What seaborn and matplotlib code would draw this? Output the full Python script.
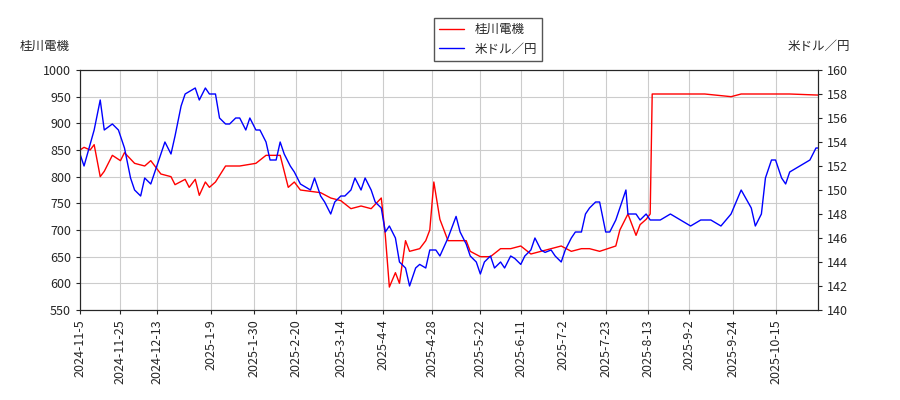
import matplotlib
matplotlib.use("Agg")
import matplotlib.pyplot as plt
import matplotlib.dates as mdates
import seaborn as sns
import pandas as pd

sns.set_style("white")
plt.rcParams['font.family'] = ['Noto Sans CJK JP', 'DejaVu Sans']

start = pd.Timestamp("2024-11-05")
stock_px = [80,85,90,95,100,105,112,120,125,135,145,150,160,170,175,185,190,195,200,205,210,215,225,240,255,265,280,
            288,295,300,320,330,340,350,360,370,380,385,390,395,400,405,410,420,425,430,434,440,448,455,465,470,480,490,
            500,510,520,530,540,550,560,570,580,590,600,615,620,628,635,640,645,650,652,680,705,730,740,760,790,818]
stock_val = [850,855,850,860,800,810,840,830,845,825,820,830,805,800,785,795,780,795,765,790,780,790,820,820,825,840,840,
             780,790,775,770,760,755,740,745,740,760,690,593,620,600,680,660,665,680,700,790,720,680,680,680,660,650,650,
             665,665,670,655,660,665,670,660,665,665,660,670,700,730,690,710,720,730,955,955,955,950,955,955,955,953]
fx_px = [80,85,95,100,105,112,118,125,130,135,140,145,150,155,160,165,170,175,180,185,195,200,205,210,215,220,225,230,235,
         240,245,250,255,260,265,270,275,280,285,290,295,300,310,315,320,325,330,335,340,345,350,355,360,365,370,375,380,
         385,390,395,400,405,410,415,420,425,430,435,440,448,455,460,465,470,475,480,485,490,495,500,505,510,515,520,525,
         530,535,540,545,550,555,560,565,570,575,580,585,590,595,600,605,610,615,620,625,628,635,640,645,650,660,670,680,
         690,700,710,720,730,740,750,755,760,765,770,775,780,785,790,800,810,815,818]
fx_val = [153,152,155,157.5,155,155.5,155,153.5,151,150,149.5,151,150.5,151.5,153,154,153,154.5,157,158,158.5,157.5,158.5,
          158,158,156,155.5,155.5,156,156,155,156,155,155,154,152.5,152.5,154,153,152,151.5,150.5,150,151,149.5,149,148,
          149,149.5,149.5,150,151,150,151,150,149,148.5,146.5,147,146,144,143.5,142,143.5,143.8,143.5,145,145,144.5,146,
          147.8,146.5,145.5,144.5,144,143,144,144.5,143.5,144,143.5,144.5,144.3,143.8,144.5,145,146,145,144.8,145,144.5,
          144,145,146,146.5,146.5,148,148.5,149,149,146.5,146.5,147.5,148.5,150,148,148,147.5,148,147.5,147.5,148,147.5,
          147,147.5,147.5,147,148,150,148.5,147,148,151,152.5,152.5,151,150.5,151.5,152,152.5,153.5,153.5]

def to_dates(px):
    return [start + pd.Timedelta(days=round((p - 80) / 2.02)) for p in px]

df_s = pd.DataFrame({"date": to_dates(stock_px), "v": stock_val})
df_f = pd.DataFrame({"date": to_dates(fx_px), "v": fx_val})

fig = plt.figure(figsize=(9, 4), dpi=100)
ax = fig.add_axes([80/900, 1-310/400, 738/900, 240/400])
ax2 = ax.twinx()
sns.lineplot(data=df_s, x="date", y="v", ax=ax, color="red", lw=1, label="桂川電機", legend=False)
sns.lineplot(data=df_f, x="date", y="v", ax=ax2, color="blue", lw=1, label="米ドル／円", legend=False)
ax.set_ylim(550, 1000)
ax2.set_ylim(140, 160)
ax.set_yticks(range(550, 1001, 50))
ax2.set_yticks(range(140, 161, 2))
ax.set_xlim(start, start + pd.Timedelta(days=365))
ticks = ["2024-11-5","2024-11-25","2024-12-13","2025-1-9","2025-1-30","2025-2-20","2025-3-14","2025-4-4",
         "2025-4-28","2025-5-22","2025-6-11","2025-7-2","2025-7-23","2025-8-13","2025-9-2","2025-9-24","2025-10-15"]
ax.set_xticks([pd.Timestamp(t) for t in ticks])
ax.set_xticklabels(ticks, rotation=90, fontsize=8)
ax.grid(True, color="#cccccc", lw=0.8)
ax.tick_params(labelsize=9, length=3, left=True, bottom=True)
ax2.tick_params(labelsize=9, length=3, right=True)
ax.set_xlabel(""); ax.set_ylabel(""); ax2.set_ylabel("")
fig.text(20/900, 1-46/400, "桂川電機", fontsize=9, va="center")
fig.text(850/900, 1-46/400, "米ドル／円", fontsize=9, va="center", ha="right")
h1, l1 = ax.get_legend_handles_labels()
h2, l2 = ax2.get_legend_handles_labels()
fig.legend(h1 + h2, l1 + l2, loc="upper center", bbox_to_anchor=(488/900, 1-12/400), fontsize=9,
           fancybox=False, edgecolor="#555555", framealpha=1)
fig.savefig("out.png", dpi=100)
